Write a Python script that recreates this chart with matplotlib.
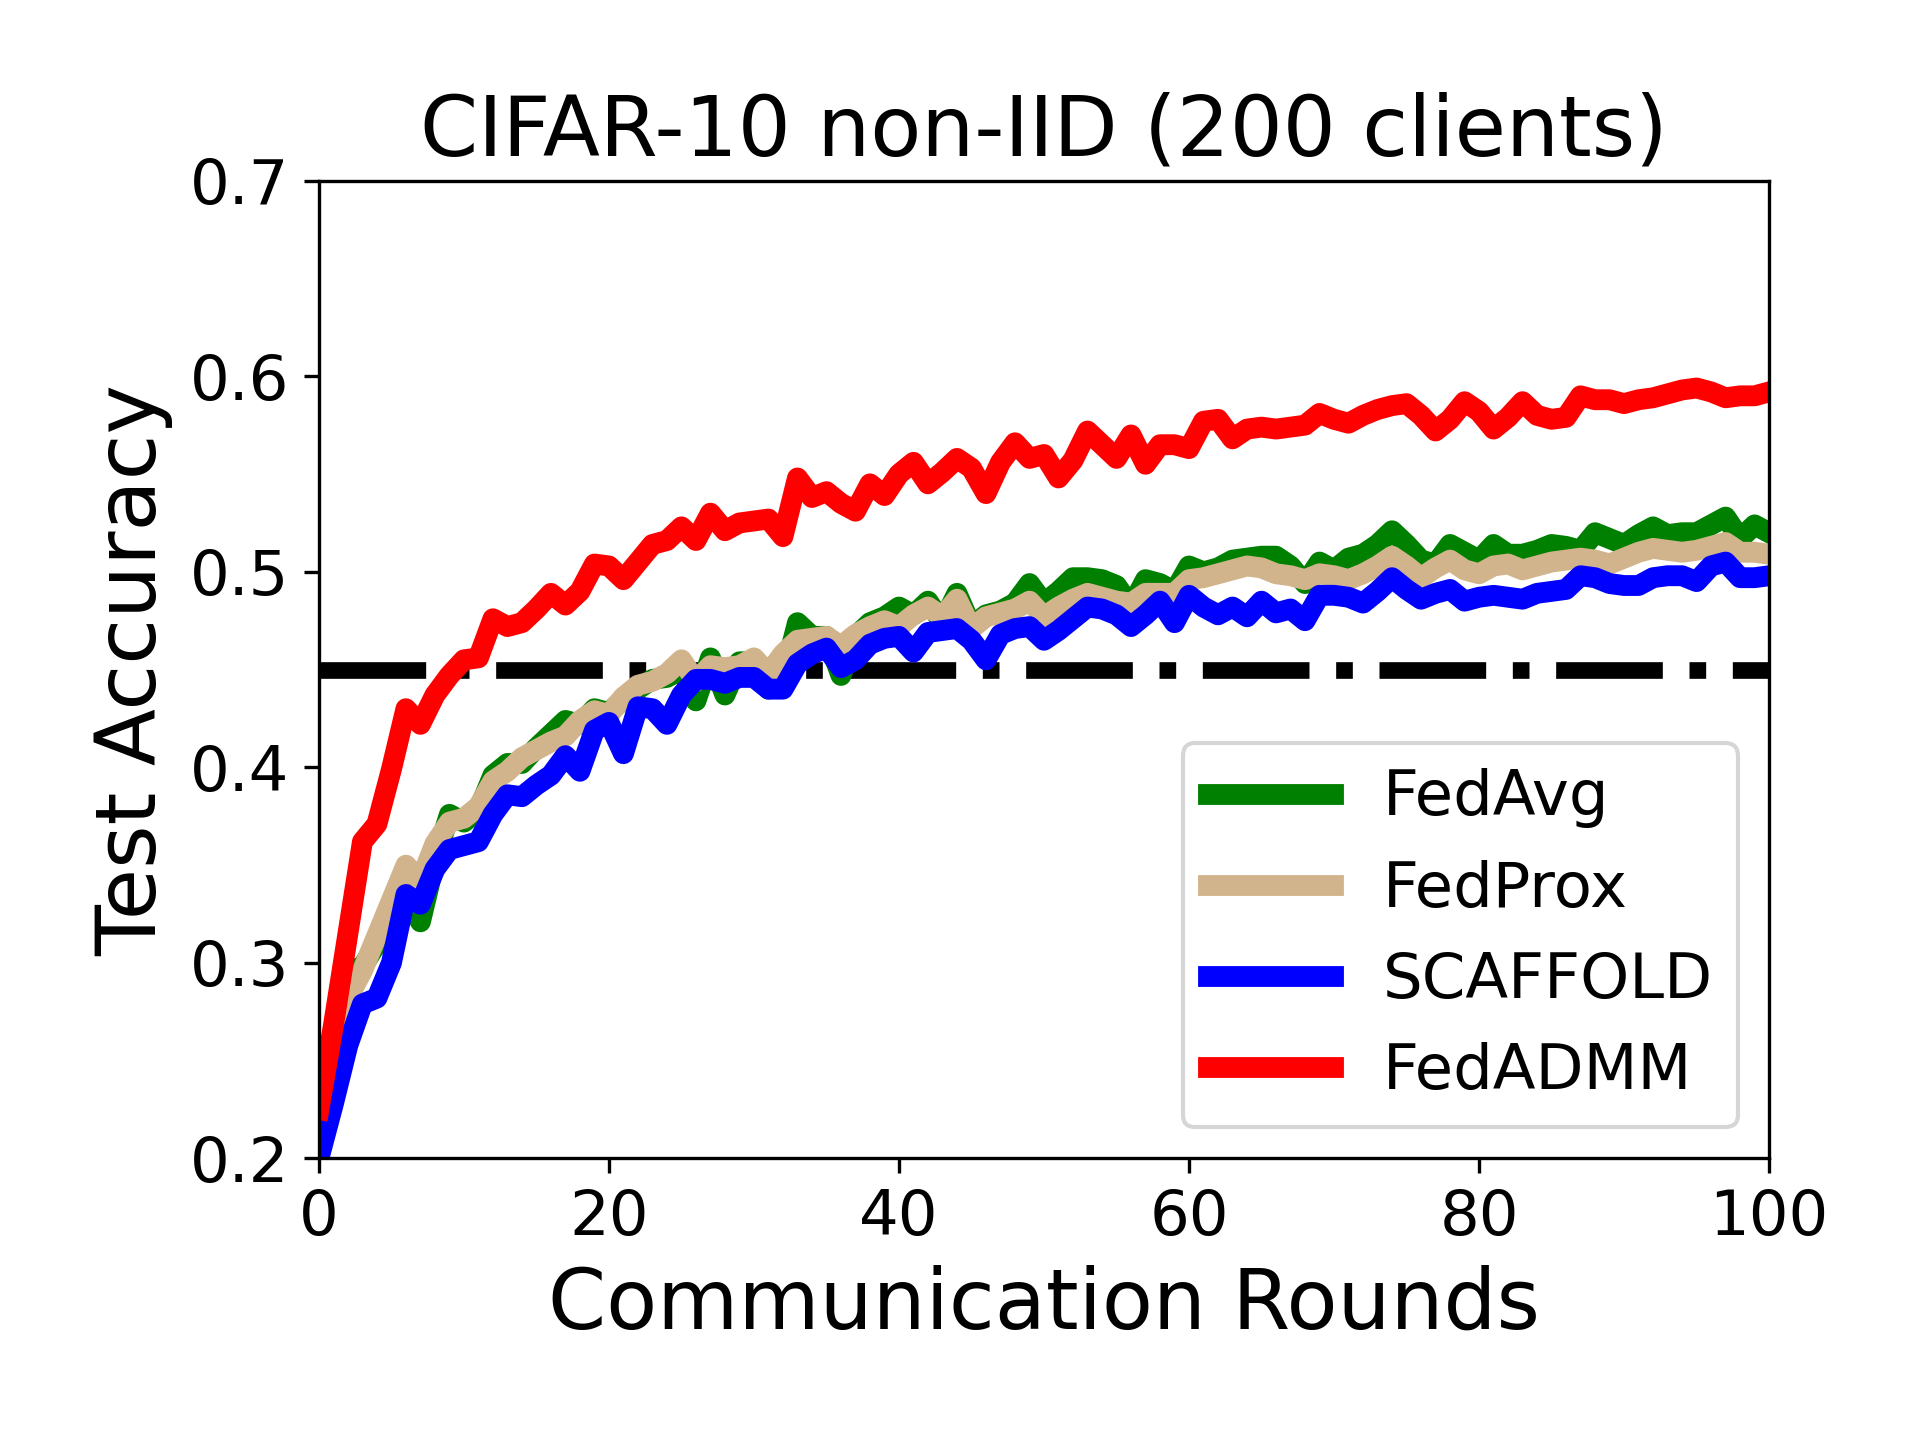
import numpy as np
from matplotlib import pyplot as plt

# test accuracy per communication round
rounds = np.arange(101)

fedavg = [0.208, 0.245, 0.296, 0.298, 0.310, 0.322, 0.336, 0.321, 0.352, 0.376,
          0.372, 0.378, 0.396, 0.402, 0.402, 0.410, 0.417, 0.424, 0.422, 0.430,
          0.428, 0.435, 0.440, 0.445, 0.446, 0.450, 0.434, 0.456, 0.437, 0.454,
          0.454, 0.440, 0.445, 0.474, 0.467, 0.467, 0.447, 0.467, 0.474, 0.477,
          0.482, 0.478, 0.485, 0.474, 0.489, 0.472, 0.478, 0.480, 0.484, 0.494,
          0.484, 0.490, 0.497, 0.497, 0.496, 0.493, 0.482, 0.496, 0.494, 0.490,
          0.503, 0.500, 0.502, 0.506, 0.507, 0.508, 0.508, 0.503, 0.494, 0.505,
          0.501, 0.507, 0.509, 0.514, 0.521, 0.514, 0.506, 0.504, 0.514, 0.510,
          0.506, 0.514, 0.509, 0.509, 0.511, 0.514, 0.513, 0.511, 0.520, 0.517,
          0.514, 0.519, 0.523, 0.519, 0.520, 0.520, 0.524, 0.528, 0.517, 0.524,
          0.520]

fedprox = [0.208, 0.240, 0.282, 0.296, 0.314, 0.332, 0.350, 0.342, 0.361, 0.372,
           0.374, 0.380, 0.393, 0.398, 0.405, 0.409, 0.413, 0.416, 0.424, 0.429,
           0.427, 0.436, 0.442, 0.444, 0.448, 0.455, 0.444, 0.452, 0.451, 0.452,
           0.456, 0.448, 0.458, 0.465, 0.466, 0.467, 0.462, 0.468, 0.472, 0.475,
           0.472, 0.478, 0.482, 0.477, 0.486, 0.471, 0.477, 0.479, 0.481, 0.485,
           0.477, 0.482, 0.486, 0.489, 0.487, 0.485, 0.484, 0.489, 0.489, 0.489,
           0.496, 0.497, 0.499, 0.501, 0.503, 0.502, 0.499, 0.498, 0.496, 0.499,
           0.498, 0.496, 0.499, 0.503, 0.508, 0.503, 0.497, 0.502, 0.506, 0.501,
           0.499, 0.503, 0.504, 0.501, 0.503, 0.505, 0.506, 0.507, 0.506, 0.504,
           0.507, 0.510, 0.512, 0.511, 0.510, 0.511, 0.513, 0.515, 0.510, 0.510,
           0.509]

scaffold = [0.200, 0.228, 0.258, 0.279, 0.282, 0.300, 0.335, 0.330, 0.348, 0.358,
            0.360, 0.362, 0.376, 0.386, 0.385, 0.391, 0.396, 0.406, 0.398, 0.419,
            0.423, 0.407, 0.431, 0.430, 0.422, 0.437, 0.445, 0.445, 0.443, 0.446,
            0.446, 0.440, 0.440, 0.453, 0.458, 0.461, 0.451, 0.455, 0.463, 0.466,
            0.467, 0.459, 0.469, 0.470, 0.471, 0.465, 0.455, 0.468, 0.471, 0.472,
            0.465, 0.470, 0.476, 0.482, 0.481, 0.478, 0.472, 0.478, 0.485, 0.474,
            0.488, 0.482, 0.478, 0.482, 0.477, 0.485, 0.479, 0.481, 0.475, 0.488,
            0.488, 0.487, 0.484, 0.490, 0.497, 0.491, 0.486, 0.489, 0.491, 0.485,
            0.487, 0.488, 0.487, 0.486, 0.489, 0.490, 0.491, 0.498, 0.497, 0.494,
            0.493, 0.493, 0.497, 0.498, 0.498, 0.495, 0.503, 0.505, 0.497, 0.497,
            0.498]

fedadmm = [0.225, 0.268, 0.315, 0.362, 0.371, 0.399, 0.430, 0.422, 0.437, 0.447,
           0.455, 0.456, 0.476, 0.472, 0.474, 0.481, 0.489, 0.483, 0.490, 0.504,
           0.503, 0.496, 0.505, 0.514, 0.516, 0.523, 0.516, 0.530, 0.521, 0.525,
           0.526, 0.527, 0.518, 0.548, 0.538, 0.541, 0.535, 0.531, 0.545, 0.539,
           0.550, 0.556, 0.545, 0.551, 0.558, 0.553, 0.540, 0.556, 0.566, 0.558,
           0.560, 0.548, 0.557, 0.572, 0.565, 0.558, 0.570, 0.555, 0.565, 0.565,
           0.563, 0.577, 0.578, 0.568, 0.573, 0.574, 0.573, 0.574, 0.575, 0.581,
           0.578, 0.576, 0.580, 0.583, 0.585, 0.586, 0.580, 0.572, 0.578, 0.587,
           0.582, 0.573, 0.579, 0.587, 0.580, 0.578, 0.579, 0.590, 0.588, 0.588,
           0.586, 0.588, 0.589, 0.591, 0.593, 0.594, 0.592, 0.589, 0.590, 0.590,
           0.592]

target_acc = 0.45

series = [('FedAvg', fedavg, 'green'),
          ('FedProx', fedprox, 'tan'),
          ('SCAFFOLD', scaffold, 'blue'),
          ('FedADMM', fedadmm, 'red')]


def plot_accuracy():
    fig = plt.figure(figsize=(6.4, 4.8), dpi=300)
    ax = fig.add_axes([0.1661, 0.1955, 0.7553, 0.679])

    ax.axhline(target_acc, color='black', linestyle='-.', linewidth=4)
    for name, acc, color in series:
        ax.plot(rounds, acc, color=color, linewidth=5, label=name)

    ax.set_xlim(0, 100)
    ax.set_ylim(0.2, 0.7)
    ax.set_xticks([0, 20, 40, 60, 80, 100])
    ax.set_yticks([0.2, 0.3, 0.4, 0.5, 0.6, 0.7])
    ax.tick_params(labelsize=15)
    ax.set_xlabel('Communication Rounds', fontsize=20)
    ax.set_ylabel('Test Accuracy', fontsize=20)
    ax.set_title('CIFAR-10 non-IID (200 clients)', fontsize=20)
    ax.legend(loc='lower right', fontsize=15)
    fig.savefig('out.png', dpi=300)


if __name__ == '__main__':
    plot_accuracy()
